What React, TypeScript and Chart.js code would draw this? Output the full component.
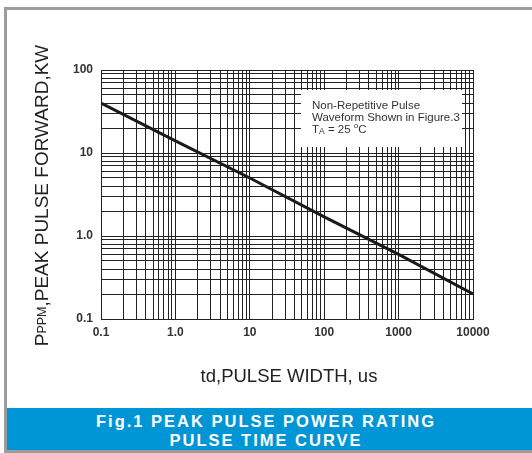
import { useEffect, useRef } from 'react';
import { Chart, registerables } from 'chart.js';

Chart.register(...registerables);

// ---- data ----
const pulseWidthUs = [0.1, 1, 10, 100, 1000, 10000];
const peakPowerKW = [40, 14, 5, 1.7, 0.6, 0.2];

const xTickValues = [0.1, 1, 10, 100, 1000, 10000];
const xTickLabels = ['0.1', '1.0', '10', '100', '1000', '10000'];
const yTickValues = [0.1, 1, 10, 100];
const yTickLabels = ['0.1', '1.0', '10', '100'];
const gridMultipliers = [1, 2, 3, 4, 5, 6, 7, 8, 9];

const xTitle = 'td,PULSE WIDTH, us';
const yTitleMain = 'P';
const yTitleSub = 'PPM';
const yTitleRest = ',PEAK PULSE FORWARD,KW';
const noteLines = ['Non-Repetitive Pulse', 'Waveform Shown in Figure.3'];
const bannerLines = ['Fig.1 PEAK PULSE POWER RATING', 'PULSE TIME CURVE'];

const FONT = '"Liberation Sans", Arial, sans-serif';

function decadeTicks(min: number, max: number) {
  const out: { value: number }[] = [];
  const e0 = Math.round(Math.log10(min));
  const e1 = Math.round(Math.log10(max));
  for (let e = e0; e < e1; e++) {
    for (const m of gridMultipliers) {
      out.push({ value: parseFloat((m * Math.pow(10, e)).toPrecision(6)) });
    }
  }
  out.push({ value: max });
  return out;
}

function labelFor(values: number[], labels: string[]) {
  return (value: any) => {
    const v = Number(value);
    const i = values.findIndex((t) => Math.abs(t - v) / t < 1e-6);
    return i >= 0 ? labels[i] : '';
  };
}

const decorPlugin = {
  id: 'decor',
  afterDraw(chart: any) {
    const { ctx, chartArea } = chart;
    const { left, right, top, bottom } = chartArea;
    ctx.save();

    // annotation box
    const bx = left + 200;
    const by = top + 20;
    ctx.fillStyle = '#ffffff';
    ctx.fillRect(bx, by, 161, 57);
    ctx.fillStyle = '#333333';
    ctx.textBaseline = 'alphabetic';
    ctx.textAlign = 'left';
    const tx = bx + 11;
    ctx.font = `11.5px ${FONT}`;
    ctx.fillText(noteLines[0], tx, by + 19);
    ctx.fillText(noteLines[1], tx, by + 31);
    // TA = 25 °C
    let cx = tx;
    const base3 = by + 43;
    ctx.font = `11.5px ${FONT}`;
    ctx.fillText('T', cx, base3);
    cx += ctx.measureText('T').width;
    ctx.font = `8.5px ${FONT}`;
    ctx.fillText('A', cx, base3 + 1);
    cx += ctx.measureText('A').width;
    ctx.font = `11.5px ${FONT}`;
    ctx.fillText(' = 25 ', cx, base3);
    cx += ctx.measureText(' = 25 ').width;
    ctx.font = `8px ${FONT}`;
    ctx.fillText('o', cx, base3 - 5);
    cx += ctx.measureText('o').width;
    ctx.font = `11.5px ${FONT}`;
    ctx.fillText('C', cx, base3);

    // x title
    ctx.fillStyle = '#222222';
    ctx.font = `18.5px ${FONT}`;
    ctx.textAlign = 'center';
    ctx.textBaseline = 'middle';
    ctx.fillText(xTitle, (left + right) / 2 + 2, 377);

    // y title (rotated)
    ctx.translate(41, (top + bottom) / 2 + 1);
    ctx.rotate(-Math.PI / 2);
    ctx.textAlign = 'left';
    ctx.textBaseline = 'alphabetic';
    const mainFont = `19px ${FONT}`;
    const subFont = `12.5px ${FONT}`;
    ctx.font = mainFont;
    const wMain = ctx.measureText(yTitleMain).width;
    const wRest = ctx.measureText(yTitleRest).width;
    ctx.font = subFont;
    const wSub = ctx.measureText(yTitleSub).width;
    const total = wMain + wSub + wRest;
    let px = -total / 2;
    const baseY = 7;
    ctx.font = mainFont;
    ctx.fillText(yTitleMain, px, baseY);
    px += wMain;
    ctx.font = subFont;
    ctx.fillText(yTitleSub, px, baseY - 2);
    px += wSub;
    ctx.font = mainFont;
    ctx.fillText(yTitleRest, px, baseY);

    ctx.restore();
  },
};

export default function App() {
  const canvasRef = useRef<HTMLCanvasElement | null>(null);

  useEffect(() => {
    if (!canvasRef.current) return;
    const chart = new Chart(canvasRef.current, {
      type: 'line',
      data: {
        datasets: [
          {
            data: pulseWidthUs.map((x, i) => ({ x, y: peakPowerKW[i] })),
            borderColor: '#1a1a1a',
            borderWidth: 3,
            pointRadius: 0,
            tension: 0,
            fill: false,
          },
        ],
      },
      options: {
        animation: false,
        responsive: false,
        devicePixelRatio: 1,
        layout: { padding: { left: 0, right: 59, top: 70, bottom: 0 } },
        plugins: { legend: { display: false }, tooltip: { enabled: false } },
        scales: {
          x: {
            type: 'logarithmic',
            min: 0.1,
            max: 10000,
            afterBuildTicks: (scale: any) => {
              scale.ticks = decadeTicks(scale.min, scale.max);
            },
            afterFit: (scale: any) => {
              scale.height = 134;
            },
            grid: { color: '#222222', lineWidth: 1, drawTicks: false },
            border: { display: true, color: '#222222', width: 1 },
            ticks: {
              autoSkip: false,
              maxRotation: 0,
              minRotation: 0,
              padding: 6,
              color: '#333333',
              font: { family: FONT, size: 12, weight: 'bold' },
              callback: labelFor(xTickValues, xTickLabels),
            },
          },
          y: {
            type: 'logarithmic',
            min: 0.1,
            max: 100,
            afterBuildTicks: (scale: any) => {
              scale.ticks = decadeTicks(scale.min, scale.max);
            },
            afterFit: (scale: any) => {
              scale.width = 101;
            },
            grid: { color: '#222222', lineWidth: 1, drawTicks: false },
            border: { display: true, color: '#222222', width: 1 },
            ticks: {
              autoSkip: false,
              padding: 8,
              color: '#333333',
              font: { family: FONT, size: 12, weight: 'bold' },
              callback: labelFor(yTickValues, yTickLabels),
            },
          },
        },
      },
      plugins: [decorPlugin],
    } as any);
    return () => chart.destroy();
  }, []);

  const gray = '#9c9c9c';
  return (
    <div
      style={{
        position: 'absolute',
        left: 0,
        top: 0,
        width: 532,
        height: 453,
        background: '#ffffff',
        overflow: 'hidden',
      }}
    >
      <div style={{ position: 'absolute', left: 4, top: 7, width: 528, height: 3, background: gray }} />
      <div style={{ position: 'absolute', left: 4, top: 7, width: 3, height: 446, background: gray }} />
      <div style={{ position: 'absolute', left: 4, top: 450, width: 528, height: 3, background: gray }} />
      <div
        style={{
          position: 'absolute',
          left: 7,
          top: 408,
          width: 525,
          height: 42,
          background: '#0095d5',
        }}
      />
      {bannerLines.map((t, i) => (
        <div
          key={i}
          style={{
            position: 'absolute',
            left: 0,
            width: 532,
            top: 412 + i * 19,
            height: 19,
            lineHeight: '19px',
            textAlign: 'center',
            color: '#ffffff',
            fontFamily: FONT,
            fontWeight: 'bold',
            fontSize: 16.5,
            letterSpacing: '2px',
            whiteSpace: 'nowrap',
          }}
        >
          {t}
        </div>
      ))}
      <canvas
        ref={canvasRef}
        width={532}
        height={453}
        style={{ position: 'absolute', left: 0, top: 0, width: 532, height: 453 }}
      />
    </div>
  );
}
